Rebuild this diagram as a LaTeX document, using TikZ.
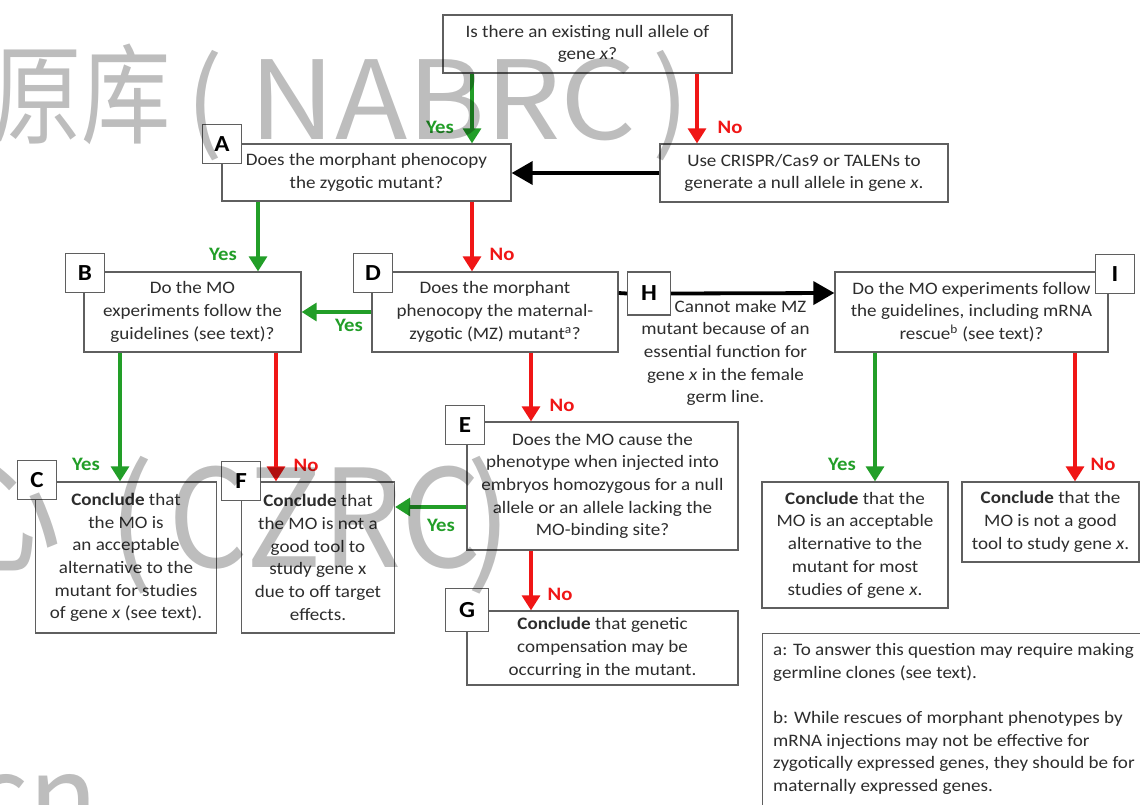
\documentclass[tikz,border=0pt]{standalone}
\usepackage{fontspec}
\setmainfont{Carlito}[FakeStretch=1.09]
\newfontfamily\cjk{Noto Sans CJK SC}
\usetikzlibrary{arrows.meta}
\definecolor{grn}{RGB}{34,158,40}
\definecolor{rd}{RGB}{240,22,22}
\definecolor{edge}{RGB}{95,95,95}
\definecolor{ink}{RGB}{45,45,45}

\begin{document}
\begin{tikzpicture}[x=1pt,y=-1pt,
  txt/.style={text=ink, inner sep=0pt, align=center, font=\fontsize{17.5}{22.7}\selectfont},
  box/.style={txt, draw=edge, line width=1.3pt, fill=white},
  tag/.style={draw=edge, line width=1.3pt, fill=white, inner sep=0pt, minimum size=39pt,
    font=\fontsize{23}{23}\selectfont\bfseries, text=black},
  yarr/.style={draw=grn, line width=3.3pt, -{Triangle[length=15pt,width=18pt]}},
  narr/.style={draw=rd, line width=3.3pt, -{Triangle[length=15pt,width=18pt]}},
  karr/.style={draw=black, line width=3.8pt, -{Triangle[length=21pt,width=23pt]}},
  kline/.style={draw=black, line width=3.8pt},
  yes/.style={text=grn, inner sep=0pt, font=\fontsize{19}{19}\selectfont\bfseries},
  no/.style={text=rd, inner sep=0pt, font=\fontsize{19}{19}\selectfont\bfseries},
  wm/.style={text=black, opacity=0.26, inner sep=0pt, anchor=base west},
  wmA/.style={wm, font=\cjk\fontsize{109}{109}\selectfont},
  wmB/.style={wm, font=\cjk\fontsize{136}{136}\selectfont},
]
\useasboundingbox[fill=white] (0,0) rectangle (1140,805);

% column and row helpers for the connectors
\coordinate (cx472) at (472,0);
\coordinate (cx697) at (697,0);
\coordinate (cx258) at (258,0);
\coordinate (cx120) at (120,0);
\coordinate (cx276) at (276,0);
\coordinate (cx531) at (531,0);
\coordinate (cx875) at (875,0);
\coordinate (cx1075) at (1075,0);
\coordinate (ry173) at (0,173);
\coordinate (ry312) at (0,312);
\coordinate (ry293) at (0,293);
\coordinate (ry507) at (0,507);

% question and conclusion boxes
\node[box, minimum width=289pt, minimum height=58pt] (top) at (587.5,44)
  {Is there an existing null allele of\\ gene \textit{x}?};
\node[box, minimum width=289pt, minimum height=57pt] (A) at (366.5,172.5)
  {Does the morphant phenocopy\\ the zygotic mutant?};
\node[box, minimum width=288pt, minimum height=58pt] (crispr) at (804,173)
  {Use CRISPR/Cas9 or TALENs to\\ generate a null allele in gene \textit{x}.};
\node[box, minimum width=217pt, minimum height=80pt] (B) at (192.5,312)
  {Do the MO\\ experiments follow the\\ guidelines (see text)?};
\node[box, minimum width=246pt, minimum height=80pt] (D) at (495,312)
  {Does the morphant\\ phenocopy the maternal-\\ zygotic (MZ) mutant\textsuperscript{a}?};
\node[box, minimum width=273pt, minimum height=80pt] (I) at (971.5,312)
  {Do the MO experiments follow\\ the guidelines, including mRNA\\ rescue\textsuperscript{b} (see text)?};
\node[txt] (Htext) at (725.5,353)
  {\hspace*{30pt}Cannot make MZ\\ mutant because of an\\ essential function for\\ gene \textit{x} in the female\\ germ line.};
\node[box, minimum width=271pt, minimum height=128pt] (E) at (602.5,486)
  {Does the MO cause the\\ phenotype when injected into\\ embryos homozygous for a null\\ allele or an allele lacking the\\ MO-binding site?};
\node[box, minimum width=271pt, minimum height=74pt] (G) at (602.5,648)
  {\textbf{Conclude} that genetic\\ compensation may be\\ occurring in the mutant.};
\node[box, minimum width=181pt, minimum height=151pt] (C) at (126,557.5)
  {\textbf{Conclude} that\\ the MO is\\ an acceptable\\ alternative to the\\ mutant for studies\\ of gene \textit{x} (see text).};
\node[box, minimum width=153pt, minimum height=151pt] (F) at (318,557.5)
  {\textbf{Conclude} that\\ the MO is not a\\ good tool to\\ study gene x\\ due to off target\\ effects.};
\node[box, minimum width=186pt, minimum height=126pt] (acc) at (855,545)
  {\textbf{Conclude} that the\\ MO is an acceptable\\ alternative to the\\ mutant for most\\ studies of gene \textit{x}.};
\node[box, minimum width=177pt, minimum height=80pt] (bad) at (1050.5,522)
  {\textbf{Conclude} that the\\ MO is not a good\\ tool to study gene \textit{x}.};

% footnotes
\node[draw=edge, line width=1.3pt, fill=white, anchor=north west, minimum width=400pt,
  minimum height=200pt, inner sep=0pt] (notes) at (762,633) {};
\node[txt, align=left, anchor=north west] (notestext) at (773,643)
  {a: To answer this question may require making\\ germline clones (see text).\\[22.7pt]
   b: While rescues of morphant phenotypes by\\ mRNA injections may not be effective for\\
   zygotically expressed genes, they should be for\\ maternally expressed genes.};

% connectors
\draw[yarr] (top.south -| cx472) -- (A.north -| cx472);
\draw[narr] (top.south -| cx697) -- (crispr.north -| cx697);
\draw[karr] (crispr.west |- ry173) -- (A.east |- ry173);
\draw[yarr] (A.south -| cx258) -- (B.north -| cx258);
\draw[narr] (A.south -| cx472) -- (D.north -| cx472);
\draw[yarr] (D.west |- ry312) -- (B.east |- ry312);
\draw[narr] (D.south -| cx531) -- (E.north -| cx531);
\draw[yarr] (B.south -| cx120) -- (C.north -| cx120);
\draw[narr] (B.south -| cx276) -- (F.north -| cx276);
\draw[yarr] (E.west |- ry507) -- (F.east |- ry507);
\draw[narr] (E.south -| cx531) -- (G.north -| cx531);
\draw[yarr] (I.south -| cx875) -- (acc.north -| cx875);
\draw[narr] (I.south -| cx1075) -- (bad.north -| cx1075);

% letter tags
\node[tag] (tA) at (222,144) {A};
\node[tag] (tB) at (85,273) {B};
\node[tag] (tD) at (373,273) {D};
\node[tag, minimum size=43pt] (tH) at (649,293.5) {H};
\node[tag] (tI) at (1115,274) {I};
\node[tag] (tE) at (465,425) {E};
\node[tag, minimum size=43pt] (tG) at (467,610) {G};
\node[tag] (tC) at (37,480) {C};
\node[tag] (tF) at (241,481) {F};

% path through H to I
\draw[kline] (D.east |- ry293) -- (tH.west);
\draw[karr] (tH.east) -- (I.west |- ry293);

% branch labels
\node[yes] (y1) at (440,127) {Yes};
\node[no] (n1) at (730,127) {No};
\node[yes] (y2) at (223,254) {Yes};
\node[no] (n2) at (502,254) {No};
\node[yes] (y3) at (349,325) {Yes};
\node[no] (n3) at (562,405) {No};
\node[yes] (y4) at (86,464) {Yes};
\node[no] (n4) at (306,465) {No};
\node[yes] (y5) at (441,525) {Yes};
\node[no] (n5) at (560,594) {No};
\node[yes] (y6) at (842,464) {Yes};
\node[no] (n6) at (1103,464) {No};

% light overprint
\node[wmA, xscale=0.82] (wm1a) at (-8,136) {原库};
\node[wmA] (wm1b) at (186,140) {(};
\node[wmA, xscale=1.09] (wm1c) at (249,140) {NABRC};
\node[wmA] (wm1d) at (652,140) {)};
\node[wmB] (wm2a) at (-74,562) {心};
\node[wmB] (wm2b) at (108,567) {(};
\node[wmB, xscale=0.92] (wm2c) at (168,567) {CZRC};
\node[wmB] (wm2d) at (466,567) {)};
\node[wm, font=\cjk\fontsize{115}{115}\selectfont] (wm3) at (-30,838) {cn};
\end{tikzpicture}
\end{document}
